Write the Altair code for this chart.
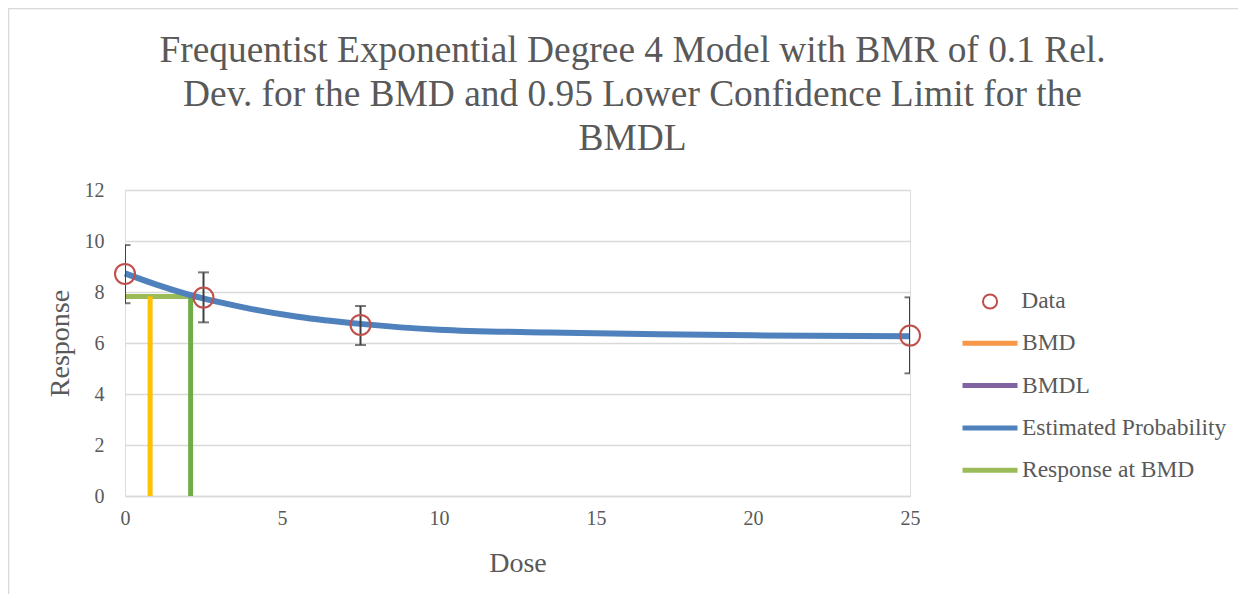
import altair as alt
import pandas as pd

# ---- data ----
dose = [0, 2.5, 7.5, 25]
mean_resp = [8.71, 7.78, 6.71, 6.29]
lower_ci = [7.56, 6.81, 5.92, 4.81]
upper_ci = [9.84, 8.77, 7.45, 7.79]

curve_dose = [0, 1, 2, 3, 4, 5.5, 7.5, 10, 13.5, 17, 20, 25]
curve_resp = [8.73, 8.29, 7.91, 7.6, 7.34, 7.03, 6.75, 6.52, 6.41, 6.34, 6.30, 6.26]

bmd_value = 2.09
bmdl_value = 0.80
resp_at_bmd = 7.82

legend_series = ["BMD", "BMDL", "Estimated Probability", "Response at BMD"]
legend_colors = ["#F79646", "#8064A2", "#4F81BD", "#9BBB59"]

title_lines = [
    "Frequentist Exponential Degree 4 Model with BMR of 0.1 Rel.",
    "Dev. for the BMD and 0.95 Lower Confidence Limit for the",
    "BMDL",
]

FONT = "Liberation Serif"
TXT = "#595959"
GRID = "#D9D9D9"

pts = pd.DataFrame({"dose": dose, "mean": mean_resp, "lo": lower_ci, "hi": upper_ci, "lab": ["Data"] * 4})
curve = pd.DataFrame({"dose": curve_dose, "resp": curve_resp, "series": ["Estimated Probability"] * len(curve_dose)})
bmdl_df = pd.DataFrame({"dose": [bmdl_value], "y0": [0], "y1": [resp_at_bmd]})
bmd_df = pd.DataFrame({"dose": [bmd_value], "y0": [0], "y1": [resp_at_bmd]})
hline_df = pd.DataFrame({"x0": [0], "x1": [bmd_value], "y": [resp_at_bmd]})

xscale = alt.Scale(domain=[0, 25], nice=False, zero=False)
yscale = alt.Scale(domain=[0, 12], nice=False)

xaxis = alt.Axis(values=[0, 5, 10, 15, 20, 25], grid=False, domain=True, domainColor=GRID,
                 domainWidth=1.3, ticks=False, tickSize=0, labelPadding=12, labelFontSize=20,
                 labelFlush=False, labelFont=FONT, labelColor=TXT, title="Dose", titleFont=FONT,
                 titleFontSize=28, titleColor=TXT, titleFontWeight="normal", titleY=75,
                 titleBaseline="alphabetic")
yaxis = alt.Axis(values=[0, 2, 4, 6, 8, 10, 12], grid=True, gridColor=GRID, gridWidth=1.3,
                 domain=False, ticks=False, tickSize=0, labelPadding=21, labelFontSize=20,
                 labelFont=FONT, labelColor=TXT, title="Response", titleFont=FONT, titleFontSize=28,
                 titleColor=TXT, titleFontWeight="normal", titleX=-57, titleY=153,
                 titleBaseline="alphabetic", titleAngle=270)

X = alt.X("dose:Q", scale=xscale, axis=xaxis)

curve_layer = alt.Chart(curve).mark_line(strokeWidth=6, interpolate="monotone").encode(
    x=X,
    y=alt.Y("resp:Q", scale=yscale, axis=yaxis),
    color=alt.Color("series:N", scale=alt.Scale(domain=legend_series, range=legend_colors),
                    legend=alt.Legend(title=None, orient="none", legendX=835, legendY=123.3,
                                      symbolType="stroke", symbolSize=3025, symbolStrokeWidth=5,
                                      labelFont=FONT, labelFontSize=23.5, labelColor=TXT,
                                      labelLimit=400, labelOffset=2, rowPadding=0.3, padding=0)),
)

bmdl_layer = alt.Chart(bmdl_df).mark_rule(color="#FFC000", strokeWidth=5).encode(
    x=alt.X("dose:Q", scale=xscale), y=alt.Y("y0:Q", scale=yscale), y2="y1:Q")
bmd_layer = alt.Chart(bmd_df).mark_rule(color="#70AD47", strokeWidth=5).encode(
    x=alt.X("dose:Q", scale=xscale), y=alt.Y("y0:Q", scale=yscale), y2="y1:Q")
hline_layer = alt.Chart(hline_df).mark_rule(color="#9BBB59", strokeWidth=5).encode(
    x=alt.X("x0:Q", scale=xscale), x2="x1:Q", y=alt.Y("y:Q", scale=yscale))

err_rule = alt.Chart(pts).mark_rule(color="#404040", strokeWidth=2, clip=True).encode(
    x=alt.X("dose:Q", scale=xscale), y=alt.Y("lo:Q", scale=yscale), y2="hi:Q")
err_lo = alt.Chart(pts).mark_tick(color="#404040", thickness=2, size=11, orient="horizontal", clip=True).encode(
    x=alt.X("dose:Q", scale=xscale), y=alt.Y("lo:Q", scale=yscale))
err_hi = alt.Chart(pts).mark_tick(color="#404040", thickness=2, size=11, orient="horizontal", clip=True).encode(
    x=alt.X("dose:Q", scale=xscale), y=alt.Y("hi:Q", scale=yscale))

pt_layer = alt.Chart(pts).mark_point(filled=False, stroke="#C0504D", strokeWidth=2, size=400, opacity=1).encode(
    x=alt.X("dose:Q", scale=xscale),
    y=alt.Y("mean:Q", scale=yscale),
    shape=alt.Shape("lab:N", scale=alt.Scale(domain=["Data"], range=["circle"]),
                    legend=alt.Legend(title=None, orient="none", legendX=853.3, legendY=99.7,
                                      symbolSize=200, symbolStrokeColor="#C0504D",
                                      symbolFillColor="transparent", symbolStrokeWidth=2,
                                      labelFont=FONT, labelFontSize=23.5, labelColor=TXT,
                                      labelLimit=400, labelOffset=19.4, padding=0)),
)

border = alt.Chart(pd.DataFrame({"k": [0]})).mark_rect(fill=None, stroke=GRID, strokeWidth=1.5).encode(
    x=alt.value(-116.5), x2=alt.value(2000), y=alt.value(-181.5), y2=alt.value(2000))

chart = alt.layer(
    border, hline_layer, bmdl_layer, bmd_layer, curve_layer, err_rule, err_lo, err_hi, pt_layer
).properties(
    width=785, height=306,
    autosize=alt.AutoSizeParams(type="none"),
    padding={"left": 117, "top": 182, "right": 328, "bottom": 98},
    title=alt.TitleParams(text=title_lines, font=FONT, fontSize=37.4, color=TXT, fontWeight="normal",
                          anchor="middle", dx=115, dy=150, offset=0, lineHeight=44),
).configure_view(stroke=None).configure(background="white")

chart.save("out.html", embed_options={"renderer": "svg", "actions": False})
